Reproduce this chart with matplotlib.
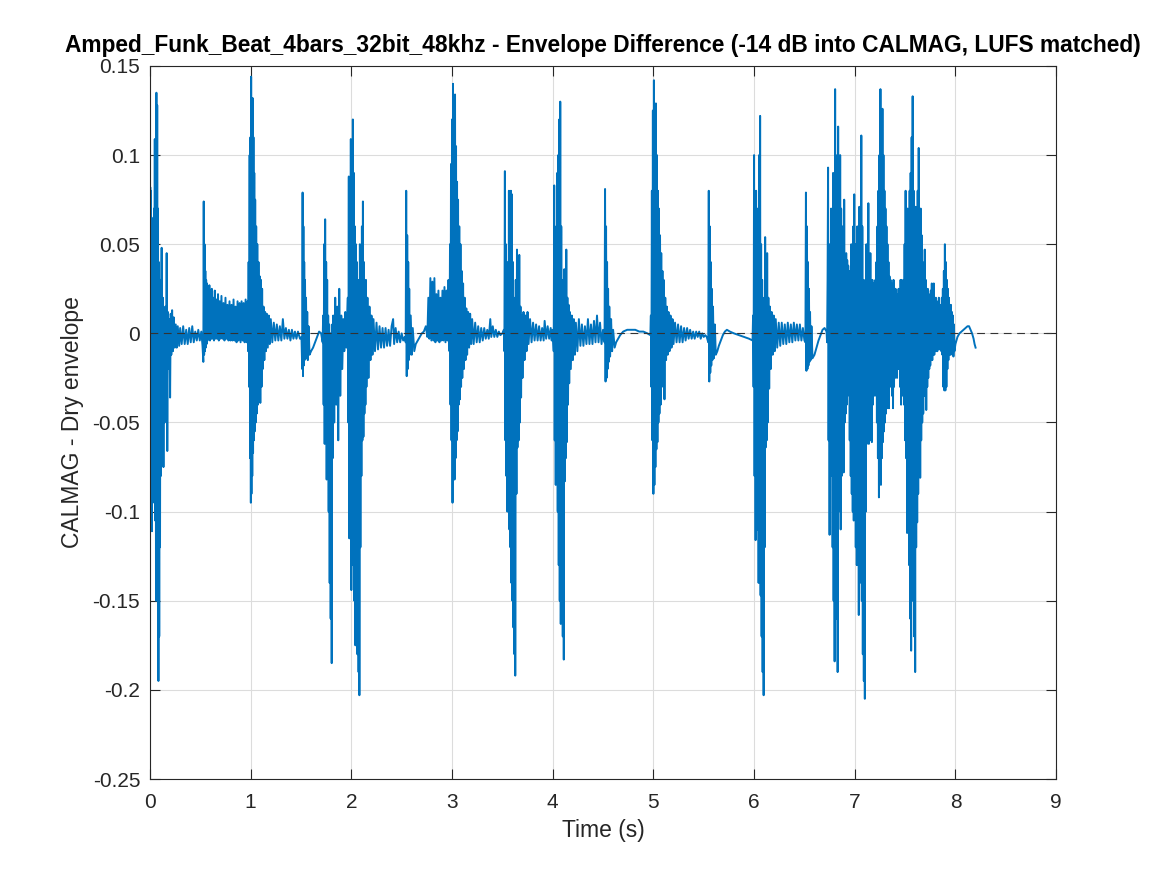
import numpy as np
import matplotlib.pyplot as plt
from matplotlib.ticker import FixedLocator, FixedFormatter

# Envelope difference (CALMAG - dry), (time s, value) per bar
bar1_pts = [
    (0.000, -0.010), (0.003, 0.082), (0.006, -0.072), (0.009, 0.080), (0.012, -0.080), (0.016, 0.065),
    (0.020, -0.111), (0.024, 0.045), (0.028, -0.095), (0.032, 0.060), (0.036, -0.060), (0.040, 0.070),
    (0.044, -0.090), (0.048, 0.109), (0.052, -0.105), (0.056, 0.100), (0.060, -0.150), (0.064, 0.135),
    (0.068, -0.140), (0.072, 0.128), (0.076, -0.150), (0.080, 0.070), (0.084, -0.195), (0.088, 0.040),
    (0.092, -0.170), (0.096, 0.020), (0.100, -0.120), (0.104, 0.030), (0.108, -0.080), (0.112, 0.010),
    (0.116, 0.048), (0.122, -0.060), (0.128, 0.020), (0.134, -0.075), (0.140, 0.010), (0.146, -0.050),
    (0.152, 0.015), (0.160, -0.030), (0.166, 0.045), (0.172, -0.066), (0.178, 0.012), (0.186, -0.020),
    (0.194, 0.008), (0.200, -0.036), (0.206, 0.011), (0.212, -0.012), (0.220, 0.013), (0.228, -0.010),
    (0.236, 0.009), (0.246, -0.008), (0.256, 0.005), (0.266, -0.008), (0.276, 0.004), (0.290, -0.007),
    (0.300, 0.003), (0.315, -0.006), (0.330, 0.004), (0.345, -0.006), (0.360, 0.002), (0.375, -0.006),
    (0.390, 0.003), (0.405, -0.005), (0.420, 0.004), (0.435, -0.005), (0.450, 0.001), (0.465, -0.004),
    (0.480, 0.002), (0.495, -0.004), (0.510, 0.001), (0.522, -0.007),
    (0.530, -0.016), (0.534, 0.074), (0.538, -0.012), (0.542, 0.050), (0.546, -0.010), (0.550, 0.035),
    (0.554, -0.008), (0.558, 0.030), (0.562, -0.006), (0.566, 0.028), (0.572, -0.004), (0.578, 0.024),
    (0.584, -0.003), (0.590, 0.027), (0.596, -0.004), (0.602, 0.022), (0.608, -0.003), (0.614, 0.025),
    (0.620, -0.003), (0.628, 0.020), (0.636, -0.004), (0.644, 0.024), (0.652, -0.003), (0.660, 0.019),
    (0.668, -0.003), (0.676, 0.022), (0.684, -0.004), (0.692, 0.018), (0.700, -0.003), (0.710, 0.021),
    (0.720, -0.003), (0.730, 0.017), (0.740, -0.004), (0.750, 0.020), (0.760, -0.003), (0.770, 0.016),
    (0.780, -0.004), (0.790, 0.018), (0.800, -0.004), (0.810, 0.016), (0.820, -0.004), (0.830, 0.019),
    (0.840, -0.004), (0.850, 0.015), (0.860, -0.005), (0.870, 0.018), (0.880, -0.004), (0.890, 0.017),
    (0.900, -0.005), (0.910, 0.018), (0.920, -0.004), (0.930, 0.017), (0.940, -0.005), (0.950, 0.019),
    (0.960, -0.005), (0.970, 0.018),
    (0.975, -0.010), (0.980, 0.040), (0.985, -0.030), (0.990, 0.100), (0.994, -0.070), (0.998, 0.110),
    (1.002, -0.095), (1.005, 0.144), (1.008, -0.090), (1.012, 0.120), (1.016, -0.080), (1.020, 0.132),
    (1.024, -0.067), (1.028, 0.110), (1.032, -0.060), (1.036, 0.090), (1.040, -0.055), (1.045, 0.075),
    (1.050, -0.050), (1.055, 0.060), (1.060, -0.045), (1.066, 0.050), (1.072, -0.040), (1.078, 0.040),
    (1.084, -0.036), (1.090, 0.032), (1.096, -0.039), (1.102, 0.030), (1.108, -0.030), (1.114, 0.025),
    (1.120, -0.020), (1.128, 0.015), (1.136, -0.015), (1.144, 0.012), (1.152, -0.010), (1.160, 0.011),
    (1.170, -0.008), (1.180, 0.010), (1.190, -0.006), (1.200, 0.008), (1.215, -0.005), (1.230, 0.006),
    (1.245, -0.004), (1.260, 0.005), (1.275, -0.004), (1.290, 0.004), (1.305, -0.004), (1.320, 0.008),
    (1.335, -0.003), (1.350, 0.003), (1.365, -0.003), (1.380, 0.002), (1.395, -0.004), (1.410, 0.002),
    (1.425, -0.003), (1.440, 0.001), (1.455, -0.003), (1.470, 0.001), (1.490, -0.003), (1.505, -0.002),
    (1.512, -0.020), (1.516, 0.079), (1.520, -0.024), (1.524, 0.060), (1.528, -0.018), (1.532, 0.040),
    (1.536, -0.015), (1.540, 0.030), (1.545, -0.012), (1.550, 0.020), (1.556, -0.014), (1.562, 0.012),
    (1.568, -0.015), (1.575, 0.004), (1.585, -0.012), (1.600, -0.010), (1.620, -0.008), (1.640, -0.005),
    (1.660, -0.002), (1.680, 0.001), (1.700, 0.000), (1.715, -0.005),
    (1.720, 0.010), (1.725, -0.040), (1.730, 0.050), (1.735, -0.062), (1.740, 0.064), (1.745, -0.045),
    (1.750, 0.040), (1.755, -0.082), (1.760, 0.030), (1.765, -0.070), (1.770, 0.010), (1.775, -0.100),
    (1.780, 0.005), (1.785, -0.140), (1.790, 0.000), (1.795, -0.160), (1.800, -0.020), (1.805, -0.185),
    (1.810, 0.005), (1.815, -0.070), (1.820, 0.010), (1.830, -0.050), (1.840, 0.020), (1.850, -0.040),
    (1.860, 0.015), (1.870, -0.060), (1.880, 0.025), (1.890, -0.035), (1.900, 0.010), (1.910, -0.020),
    (1.920, 0.008), (1.930, -0.010), (1.940, 0.012), (1.950, -0.008), (1.960, 0.010),
    (1.965, 0.020), (1.970, -0.050), (1.975, 0.088), (1.980, -0.115), (1.985, 0.070), (1.990, -0.100),
    (1.995, 0.109),
]

bar2_pts = [
    (2.000, -0.144), (2.005, 0.080), (2.010, -0.130), (2.015, 0.120), (2.020, -0.110), (2.025, 0.090),
    (2.030, -0.150), (2.035, 0.060), (2.040, -0.175), (2.045, 0.050), (2.050, -0.140), (2.055, 0.040),
    (2.060, -0.180), (2.065, 0.020), (2.072, -0.190), (2.076, 0.030), (2.080, -0.203), (2.085, 0.050),
    (2.090, -0.120), (2.095, 0.033), (2.100, -0.080), (2.105, 0.060), (2.110, -0.060), (2.115, 0.074),
    (2.120, -0.058), (2.125, 0.040), (2.130, -0.045), (2.135, 0.026), (2.140, -0.040), (2.145, 0.030),
    (2.150, -0.030), (2.160, 0.020), (2.170, -0.025), (2.180, 0.015), (2.190, -0.015), (2.200, 0.010),
    (2.210, -0.012), (2.220, 0.008), (2.235, -0.010), (2.250, 0.006), (2.265, -0.009), (2.280, 0.004),
    (2.295, -0.008), (2.310, 0.003), (2.325, -0.008), (2.340, 0.003), (2.355, -0.007), (2.370, 0.002),
    (2.385, -0.007), (2.400, 0.004), (2.415, 0.008), (2.425, -0.006), (2.440, 0.003), (2.455, -0.005),
    (2.470, 0.001), (2.485, -0.005), (2.500, 0.000), (2.515, -0.004), (2.530, -0.002),
    (2.540, -0.005), (2.545, 0.080), (2.550, -0.024), (2.555, 0.055), (2.560, -0.020), (2.565, 0.040),
    (2.570, -0.015), (2.575, 0.025), (2.580, -0.012), (2.590, 0.010), (2.600, -0.012), (2.610, 0.003),
    (2.625, -0.010), (2.640, -0.006), (2.660, -0.004), (2.680, -0.002), (2.700, 0.000), (2.720, 0.001),
    (2.740, 0.004), (2.755, -0.002), (2.765, 0.020), (2.775, -0.003), (2.785, 0.031), (2.795, -0.004),
    (2.805, 0.029), (2.815, -0.004), (2.825, 0.031), (2.835, -0.005), (2.845, 0.022), (2.855, -0.004),
    (2.865, 0.024), (2.875, -0.005), (2.885, 0.020), (2.895, -0.004), (2.905, 0.024), (2.915, -0.004),
    (2.925, 0.026), (2.935, -0.005), (2.945, 0.024), (2.955, -0.004), (2.965, 0.030),
    (2.975, -0.010), (2.980, 0.050), (2.985, -0.040), (2.990, 0.095), (2.995, -0.060), (3.000, 0.120),
    (3.005, -0.095), (3.010, 0.140), (3.015, -0.080), (3.020, 0.125), (3.025, -0.082), (3.030, 0.134),
    (3.035, -0.070), (3.040, 0.105), (3.045, -0.060), (3.050, 0.085), (3.055, -0.055), (3.060, 0.075),
    (3.066, -0.040), (3.072, 0.060), (3.078, -0.037), (3.084, 0.050), (3.090, -0.030), (3.096, 0.035),
    (3.102, -0.025), (3.110, 0.028), (3.118, -0.020), (3.126, 0.020), (3.134, -0.015), (3.142, 0.014),
    (3.150, -0.012), (3.160, 0.012), (3.170, -0.008), (3.180, 0.011), (3.190, -0.006), (3.200, 0.008),
    (3.215, -0.006), (3.230, 0.006), (3.245, -0.005), (3.260, 0.004), (3.275, -0.005), (3.290, 0.003),
    (3.305, -0.004), (3.320, 0.003), (3.335, -0.003), (3.350, 0.002), (3.365, -0.003), (3.380, 0.008),
    (3.390, -0.002), (3.405, 0.004), (3.420, -0.002), (3.435, 0.002), (3.450, -0.002), (3.465, 0.001),
    (3.480, -0.001), (3.500, 0.000), (3.515, 0.002),
    (3.520, -0.010), (3.525, 0.091), (3.530, -0.060), (3.535, 0.050), (3.540, -0.080), (3.545, 0.030),
    (3.550, -0.100), (3.555, 0.040), (3.560, -0.070), (3.565, 0.080), (3.570, -0.110), (3.575, 0.060),
    (3.580, -0.120), (3.585, 0.080), (3.590, -0.140), (3.595, 0.078), (3.600, -0.150), (3.605, 0.040),
    (3.610, -0.165), (3.615, 0.020), (3.620, -0.180), (3.625, 0.010), (3.628, -0.192), (3.633, 0.030),
    (3.640, -0.090), (3.645, 0.047), (3.650, -0.064), (3.656, 0.030), (3.662, -0.060), (3.668, 0.044),
    (3.674, -0.050), (3.680, 0.015), (3.686, -0.036), (3.692, 0.010), (3.700, -0.025), (3.710, 0.012),
    (3.720, -0.015), (3.730, 0.010), (3.740, -0.010), (3.750, 0.012), (3.760, -0.006), (3.775, 0.008),
    (3.790, -0.005), (3.805, 0.006), (3.820, -0.004), (3.835, 0.005), (3.850, -0.004), (3.865, 0.004),
    (3.880, -0.004), (3.895, 0.003), (3.910, -0.004), (3.920, 0.007), (3.935, -0.003), (3.950, 0.004),
    (3.965, -0.003), (3.980, 0.003), (3.990, -0.004),
]

bar3_pts = [
    (4.000, 0.002), (4.010, -0.010), (4.015, 0.083), (4.020, -0.060), (4.025, 0.040), (4.030, -0.085),
    (4.035, 0.060), (4.040, -0.070), (4.045, 0.090), (4.050, -0.100), (4.055, 0.100), (4.060, -0.130),
    (4.065, 0.120), (4.070, -0.150), (4.075, 0.130), (4.080, -0.163), (4.085, 0.060), (4.090, -0.140),
    (4.095, 0.030), (4.100, -0.170), (4.105, 0.020), (4.110, -0.183), (4.115, 0.036), (4.120, -0.083),
    (4.125, 0.030), (4.130, -0.070), (4.135, 0.047), (4.140, -0.061), (4.146, 0.020), (4.152, -0.040),
    (4.158, 0.016), (4.164, -0.028), (4.170, 0.012), (4.180, -0.020), (4.190, 0.010), (4.200, -0.015),
    (4.210, 0.008), (4.220, -0.012), (4.230, 0.006), (4.245, -0.010), (4.260, 0.008), (4.275, -0.007),
    (4.290, 0.005), (4.305, -0.007), (4.320, 0.004), (4.335, -0.006), (4.350, 0.008), (4.365, -0.006),
    (4.380, 0.005), (4.395, -0.006), (4.410, 0.007), (4.425, -0.005), (4.440, 0.010), (4.455, -0.005),
    (4.470, 0.006), (4.485, -0.006), (4.500, 0.002),
    (4.515, -0.005), (4.520, 0.081), (4.525, -0.027), (4.530, 0.060), (4.535, -0.025), (4.540, 0.040),
    (4.545, -0.020), (4.550, 0.025), (4.556, -0.016), (4.562, 0.015), (4.570, -0.013), (4.580, 0.008),
    (4.590, -0.010), (4.600, 0.002), (4.615, -0.008), (4.630, -0.005), (4.650, -0.003), (4.670, -0.001),
    (4.700, 0.001), (4.740, 0.002), (4.780, 0.002), (4.820, 0.002), (4.860, 0.001), (4.900, 0.001),
    (4.940, 0.000), (4.970, -0.001),
    (4.975, 0.010), (4.980, -0.030), (4.985, 0.080), (4.990, -0.060), (4.995, 0.125), (5.000, -0.090),
    (5.005, 0.142), (5.010, -0.085), (5.015, 0.110), (5.020, -0.075), (5.025, 0.129), (5.030, -0.065),
    (5.035, 0.100), (5.040, -0.061), (5.045, 0.080), (5.050, -0.050), (5.055, 0.070), (5.060, -0.045),
    (5.066, 0.055), (5.072, -0.040), (5.078, 0.045), (5.084, -0.030), (5.090, 0.035), (5.096, -0.025),
    (5.102, 0.030), (5.110, -0.037), (5.118, 0.020), (5.126, -0.015), (5.134, 0.015), (5.142, -0.012),
    (5.150, 0.012), (5.160, -0.010), (5.170, 0.010), (5.180, -0.008), (5.190, 0.008), (5.200, -0.006),
    (5.215, 0.006), (5.230, -0.005), (5.245, 0.005), (5.260, -0.005), (5.275, 0.004), (5.290, -0.005),
    (5.305, 0.003), (5.320, -0.004), (5.335, 0.003), (5.350, -0.003), (5.365, 0.002), (5.380, -0.003),
    (5.395, 0.001), (5.410, -0.003), (5.425, 0.001), (5.440, -0.002), (5.455, 0.001), (5.470, -0.003),
    (5.485, 0.000), (5.500, -0.002), (5.515, -0.001), (5.530, -0.002),
    (5.545, -0.005), (5.550, 0.080), (5.555, -0.027), (5.560, 0.060), (5.565, -0.022), (5.570, 0.040),
    (5.575, -0.018), (5.580, 0.025), (5.586, -0.015), (5.592, 0.015), (5.600, -0.014), (5.610, 0.005),
    (5.620, -0.012), (5.635, -0.010), (5.650, -0.007), (5.670, -0.004), (5.690, -0.001), (5.710, 0.001),
    (5.730, 0.002), (5.760, 0.001), (5.800, 0.000), (5.850, -0.001), (5.900, -0.002), (5.950, -0.003),
    (5.985, -0.004), (5.990, 0.010), (5.995, -0.030),
]

bar4_pts = [
    (6.000, 0.100), (6.005, -0.080), (6.010, 0.060), (6.015, -0.116), (6.020, 0.080), (6.025, -0.060),
    (6.030, 0.070), (6.035, -0.110), (6.040, 0.060), (6.045, -0.140), (6.050, 0.100), (6.055, -0.130),
    (6.060, 0.122), (6.065, -0.147), (6.070, 0.050), (6.075, -0.170), (6.080, 0.030), (6.085, -0.190),
    (6.090, 0.010), (6.095, -0.203), (6.100, 0.020), (6.105, -0.120), (6.110, 0.054), (6.115, -0.064),
    (6.120, 0.040), (6.125, -0.060), (6.130, 0.045), (6.135, -0.050), (6.142, 0.020), (6.150, -0.031),
    (6.158, 0.015), (6.166, -0.020), (6.175, 0.012), (6.185, -0.012), (6.195, 0.010), (6.205, -0.010),
    (6.215, 0.008), (6.230, -0.008), (6.245, 0.006), (6.260, -0.007), (6.275, 0.006), (6.290, -0.006),
    (6.305, 0.005), (6.320, -0.006), (6.335, 0.006), (6.350, -0.005), (6.365, 0.005), (6.380, -0.005),
    (6.395, 0.006), (6.410, -0.004), (6.425, 0.005), (6.440, -0.004), (6.455, 0.005), (6.470, -0.004),
    (6.485, 0.003), (6.500, -0.004),
    (6.510, -0.005), (6.515, 0.079), (6.520, -0.021), (6.525, 0.060), (6.530, -0.020), (6.535, 0.040),
    (6.540, -0.018), (6.545, 0.025), (6.550, -0.016), (6.556, 0.012), (6.562, -0.015), (6.570, 0.004),
    (6.580, -0.014), (6.600, -0.012), (6.620, -0.008), (6.640, -0.004), (6.660, -0.001), (6.680, 0.002),
    (6.700, 0.003), (6.720, 0.001),
    (6.725, -0.005), (6.730, 0.030), (6.735, 0.093), (6.740, -0.060), (6.745, 0.050), (6.750, -0.113),
    (6.755, 0.040), (6.760, -0.080), (6.765, 0.070), (6.770, -0.050), (6.775, 0.060), (6.780, -0.120),
    (6.785, 0.090), (6.790, -0.150), (6.795, 0.050), (6.800, -0.184), (6.805, 0.137), (6.810, -0.140),
    (6.815, 0.080), (6.820, -0.160), (6.825, 0.100), (6.830, -0.190), (6.835, 0.116), (6.840, -0.100),
    (6.845, 0.090), (6.850, -0.085), (6.855, 0.100), (6.860, -0.110), (6.865, 0.070), (6.870, -0.080),
    (6.875, 0.060), (6.880, -0.060), (6.885, 0.050), (6.890, -0.078), (6.895, 0.075), (6.900, -0.050),
    (6.905, 0.040), (6.910, -0.045), (6.915, 0.045), (6.920, -0.040), (6.925, 0.041), (6.930, -0.035),
    (6.935, 0.038), (6.940, -0.030), (6.945, 0.035), (6.950, -0.060), (6.955, 0.030), (6.960, -0.080),
    (6.965, 0.050), (6.970, -0.090), (6.975, 0.040), (6.980, -0.100), (6.985, 0.060), (6.990, -0.105),
    (6.995, 0.078), (7.000, -0.080), (7.005, 0.050), (7.010, -0.120), (7.015, 0.040), (7.020, -0.130),
    (7.025, 0.060), (7.030, -0.100), (7.035, 0.050), (7.040, -0.158), (7.045, 0.071), (7.050, -0.140),
    (7.055, 0.060), (7.060, -0.120), (7.065, 0.111), (7.070, -0.150), (7.075, 0.060), (7.080, -0.180),
    (7.085, 0.030), (7.090, -0.195), (7.095, 0.020), (7.100, -0.205), (7.105, 0.030), (7.110, -0.100),
    (7.115, 0.050), (7.120, -0.062), (7.125, 0.040), (7.130, -0.050), (7.135, 0.073), (7.140, -0.062),
    (7.145, 0.030), (7.150, -0.060), (7.155, 0.045), (7.160, -0.045), (7.165, 0.025), (7.170, -0.061),
    (7.175, 0.030), (7.180, -0.040), (7.185, 0.028), (7.190, -0.030), (7.195, 0.020), (7.200, -0.035),
    (7.205, 0.030), (7.210, -0.030), (7.215, 0.040), (7.220, -0.050), (7.225, 0.060), (7.230, -0.070),
    (7.235, 0.080), (7.240, -0.092), (7.245, 0.100), (7.250, -0.080), (7.255, 0.137), (7.260, -0.085),
    (7.265, 0.120), (7.270, -0.070), (7.275, 0.126), (7.280, -0.061), (7.285, 0.100), (7.290, -0.055),
    (7.295, 0.080), (7.300, -0.050), (7.305, 0.070), (7.310, -0.045), (7.315, 0.060), (7.320, -0.042),
    (7.325, 0.050), (7.330, -0.040), (7.335, 0.040), (7.340, -0.042), (7.345, 0.032), (7.350, -0.030),
    (7.355, 0.030), (7.360, -0.025), (7.365, 0.028), (7.370, -0.035), (7.375, 0.025), (7.380, -0.042),
    (7.385, 0.030), (7.390, -0.030), (7.395, 0.022), (7.400, -0.025), (7.405, 0.025), (7.410, -0.020),
    (7.415, 0.020), (7.420, -0.025), (7.425, 0.022), (7.430, -0.020), (7.435, 0.025), (7.440, -0.020),
    (7.445, 0.020), (7.450, -0.030), (7.455, 0.030), (7.460, -0.040), (7.465, 0.030), (7.470, -0.035),
    (7.475, 0.025), (7.480, -0.030), (7.485, 0.030), (7.490, -0.040), (7.495, 0.050), (7.500, -0.060),
    (7.505, 0.080), (7.510, -0.070), (7.515, 0.060), (7.520, -0.112), (7.525, 0.070), (7.530, -0.100),
    (7.535, 0.060), (7.540, -0.130), (7.545, 0.080), (7.550, -0.160), (7.555, 0.090), (7.560, -0.178),
    (7.565, 0.110), (7.570, -0.150), (7.575, 0.133), (7.580, -0.120), (7.585, 0.080), (7.590, -0.170),
    (7.595, 0.040), (7.600, -0.190), (7.605, 0.071), (7.610, -0.120), (7.615, 0.060), (7.620, -0.106),
    (7.625, 0.080), (7.630, -0.090), (7.635, 0.104), (7.640, -0.070), (7.645, 0.060), (7.650, -0.081),
    (7.655, 0.070), (7.660, -0.060), (7.665, 0.055), (7.670, -0.050), (7.675, 0.040), (7.680, -0.045),
    (7.685, 0.035), (7.690, -0.035), (7.695, 0.047), (7.700, -0.030), (7.705, 0.030), (7.710, -0.043),
    (7.715, 0.025), (7.720, -0.030), (7.725, 0.025), (7.730, -0.025), (7.735, 0.022), (7.740, -0.020),
    (7.745, 0.020), (7.750, -0.018), (7.755, 0.024), (7.760, -0.015), (7.765, 0.028), (7.770, -0.015),
    (7.775, 0.020), (7.780, -0.012), (7.785, 0.028), (7.790, -0.012), (7.795, 0.018), (7.800, -0.010),
    (7.805, 0.020), (7.810, -0.010), (7.815, 0.018), (7.820, -0.010), (7.825, 0.016), (7.830, -0.008),
    (7.835, 0.020), (7.840, -0.009), (7.845, 0.016), (7.850, -0.008), (7.855, 0.016), (7.860, -0.010),
    (7.865, 0.020), (7.870, -0.012), (7.875, 0.025), (7.880, -0.030), (7.885, 0.035), (7.890, -0.032),
    (7.895, 0.050), (7.900, -0.032), (7.905, 0.040), (7.910, -0.030), (7.915, 0.030), (7.920, -0.020),
    (7.925, 0.025), (7.930, -0.015), (7.935, 0.020), (7.940, -0.012), (7.945, 0.016), (7.950, -0.012),
    (7.955, 0.016), (7.960, -0.010), (7.965, 0.012), (7.970, -0.012), (7.975, 0.010), (7.980, -0.013),
    (7.985, 0.005), (7.990, -0.010), (8.000, -0.006), (8.020, -0.002), (8.040, 0.000), (8.060, 0.001),
    (8.080, 0.002), (8.100, 0.003), (8.120, 0.004), (8.135, 0.004), (8.150, 0.002), (8.165, 0.000),
    (8.180, -0.003), (8.190, -0.006), (8.200, -0.008),
]

x_ticks = [0, 1, 2, 3, 4, 5, 6, 7, 8, 9]
y_ticks = [-0.25, -0.2, -0.15, -0.1, -0.05, 0, 0.05, 0.1, 0.15]
y_ticklabels = ['-0.25', '-0.2', '-0.15', '-0.1', '-0.05', '0', '0.05', '0.1', '0.15']

pts = np.array(bar1_pts + bar2_pts + bar3_pts + bar4_pts)
t = pts[:, 0]
d = pts[:, 1]

plt.rcParams['font.family'] = ['Liberation Sans', 'DejaVu Sans']

fig = plt.figure(figsize=(11.67, 8.75), dpi=100)
ax = fig.add_axes([0.1285, 0.1097, 0.7765, 0.8149])

ax.plot(t, d, color='#0072BD', lw=1.4)
ax.axhline(0, color='#333333', lw=0.8, ls=(0, (7, 5)))

ax.set_xlim(0, 9)
ax.set_ylim(-0.25, 0.15)
ax.xaxis.set_major_locator(FixedLocator(x_ticks))
ax.yaxis.set_major_locator(FixedLocator(y_ticks))
ax.yaxis.set_major_formatter(FixedFormatter(y_ticklabels))
ax.grid(True, color='#dcdcdc', lw=0.8)
ax.set_axisbelow(True)
ax.tick_params(direction='in', length=7, width=0.8, top=True, right=True,
               labelsize=15, colors='#262626')
ax.tick_params(axis='x', pad=10)
ax.tick_params(axis='y', pad=7)
for s in ax.spines.values():
    s.set_color('#262626')
    s.set_linewidth(0.8)

ax.set_xlabel('Time (s)', fontsize=16.5, color='#262626', labelpad=5)
ax.set_ylabel('CALMAG - Dry envelope', fontsize=16.5, color='#262626', labelpad=6)
ax.set_title('Amped_Funk_Beat_4bars_32bit_48khz - Envelope Difference (-14 dB into CALMAG, LUFS matched)',
             fontsize=16.4, fontweight='bold', pad=10)

fig.savefig('out.png', dpi=100)
